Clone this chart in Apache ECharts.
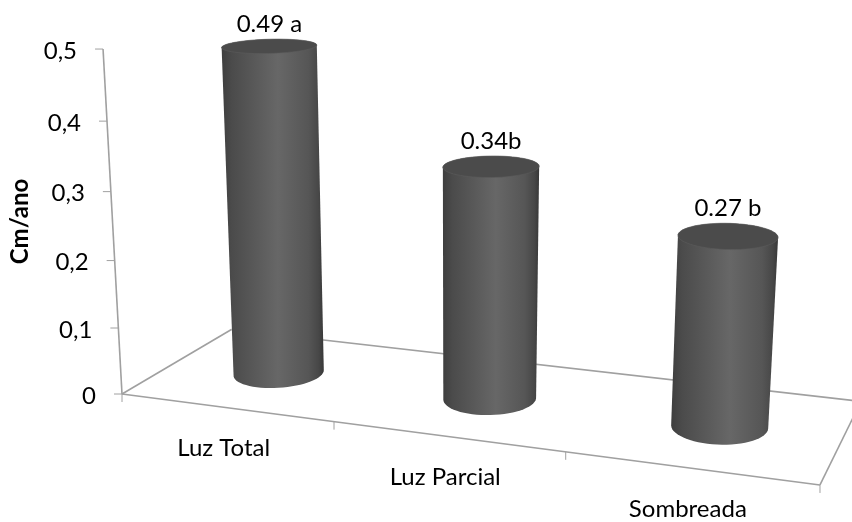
<!DOCTYPE html>
<html><head><meta charset="utf-8">
<style>html,body{margin:0;padding:0;background:#fff}#c{width:852px;height:522px}</style>
<script src="https://cdn.jsdelivr.net/npm/echarts@6/dist/echarts.min.js"></script>
</head><body><div id="c"></div>
<script>
const categories = ['Luz Total', 'Luz Parcial', 'Sombreada'];
const values = [0.49, 0.34, 0.27];
const valueLabels = ['0.49 a', '0.34b', '0.27 b'];
const yTicks = [0, 0.1, 0.2, 0.3, 0.4, 0.5];
const yTickLabels = ['0', '0,1', '0,2', '0,3', '0,4', '0,5'];
const axisTitle = 'Cm/ano';

const FONT = 'Lato, Carlito, "Open Sans", sans-serif';
const LINE = '#a0a0a0';
// Perspective camera: u along categories (0..n), w depth (0..1), t height (0..1)
const CAM = {
  a: 197.8, b: 136.5, c: -24.5, d: 122,
  e: 9.7, f: -25.95, g: -347.6, h: 394,
  i: -0.04252, j: 0.117, k: -0.0538
};
function project(u, w, t) {
  const z = CAM.i * u + CAM.j * w + CAM.k * t + 1;
  return [(CAM.a * u + CAM.b * w + CAM.c * t + CAM.d) / z,
          (CAM.e * u + CAM.f * w + CAM.g * t + CAM.h) / z];
}
// convert library scale output (pixels in the grid) to model coordinates
function modelU(params, px) { const s = params.coordSys; return (px - s.x) / s.width * categories.length; }
function modelT(params, py) { const s = params.coordSys; return (s.y + s.height - py) / s.height; }

function hull(pts) {
  const p = pts.slice().sort((m, n) => m[0] - n[0] || m[1] - n[1]);
  const cross = (o, a, b) => (a[0] - o[0]) * (b[1] - o[1]) - (a[1] - o[1]) * (b[0] - o[0]);
  const lo = [], up = [];
  for (const q of p) { while (lo.length > 1 && cross(lo[lo.length - 2], lo[lo.length - 1], q) <= 0) lo.pop(); lo.push(q); }
  for (const q of p.slice().reverse()) { while (up.length > 1 && cross(up[up.length - 2], up[up.length - 1], q) <= 0) up.pop(); up.push(q); }
  return lo.slice(0, -1).concat(up.slice(0, -1));
}
function seg(p, q, w) {
  return { type: 'line', shape: { x1: p[0], y1: p[1], x2: q[0], y2: q[1] }, style: { stroke: LINE, lineWidth: w || 1.6 }, silent: true };
}
function txt(text, x, y, align, vAlign, size) {
  return { type: 'text', x: x, y: y, silent: true, style: { text: text, align: align, verticalAlign: vAlign, textAlign: align, textVerticalAlign: vAlign, fill: '#000', font: (size || 24) + 'px ' + FONT } };
}

function renderFrame(params, api) {
  const n = categories.length, out = [];
  // floor outline
  const A = project(0, 0, 0), B = project(n, 0, 0), C = project(n, 1, 0), D = project(0, 1, 0);
  out.push(seg(A, B), seg(B, C), seg(C, D), seg(D, A));
  // category ticks and labels
  for (let k = 0; k <= n; k++) { const p = project(k, 0, 0); out.push(seg(p, [p[0], p[1] + 8], 1)); }
  categories.forEach((name, i) => {
    const u = modelU(params, api.coord([i, 0])[0]);
    const p = project(u, 0, 0);
    out.push(txt(name, p[0] - 2, p[1] + 41, 'center', 'middle'));
  });
  // slanted value axis
  const tOf = v => modelT(params, api.coord([0, v])[1]);
  out.push(seg(project(0, 0, tOf(yTicks[0])), project(0, 0, tOf(yTicks[yTicks.length - 1]))));
  yTicks.forEach((v, i) => {
    const p = project(0, 0, tOf(v));
    out.push(seg([p[0] - 8, p[1]], p, 1));
    out.push(txt(yTickLabels[i], p[0] - 26, p[1] + 2, 'right', 'middle'));
  });
  return { type: 'group', children: out };
}

const CIRCLE_STEPS = 64, RU = 0.196, RW = 0.215, WC = 0.495, DU = 0.003;
function ring(u, t) {
  const pts = [];
  for (let s = 0; s < CIRCLE_STEPS; s++) {
    const a = s / CIRCLE_STEPS * Math.PI * 2;
    pts.push(project(u + DU + RU * Math.cos(a), WC + RW * Math.sin(a), t));
  }
  return pts;
}
function renderCylinder(params, api) {
  const i = api.value(0), v = api.value(1);
  const top = api.coord([i, v]), base = api.coord([i, 0]);
  const u = modelU(params, top[0]);
  const t = modelT(params, top[1]), t0 = modelT(params, base[1]);
  const bottomRing = ring(u, t0), topRing = ring(u, t);
  const minY = Math.min.apply(null, topRing.map(p => p[1]));
  const mid = project(u + DU, WC, t);
  return { type: 'group', children: [
    { type: 'polygon', shape: { points: hull(bottomRing.concat(topRing)) }, silent: true,
      style: { fill: new echarts.graphic.LinearGradient(0, 0, 1, 0, [
        { offset: 0, color: '#3e3e3e' }, { offset: 0.1, color: '#4b4b4b' },
        { offset: 0.55, color: '#676767' }, { offset: 0.85, color: '#565656' },
        { offset: 0.95, color: '#474747' }, { offset: 1, color: '#383838' }]) } },
    { type: 'polygon', shape: { points: topRing }, silent: true, style: { fill: '#4b4b4b', stroke: '#5c5c5c', lineWidth: 0.6 } },
    txt(valueLabels[i], mid[0], minY - 15, 'center', 'middle')
  ] };
}

const chart = echarts.init(document.getElementById('c'), null, { renderer: 'canvas' });
chart.setOption({
  animation: false,
  backgroundColor: '#fff',
  grid: { left: 105, right: 30, top: 49, height: 345, containLabel: false },
  xAxis: { type: 'category', data: categories, show: false },
  yAxis: {
    type: 'value', min: 0, max: 0.5, interval: 0.1,
    name: axisTitle, nameLocation: 'middle', nameGap: 75, nameRotate: 90,
    nameTextStyle: { fontFamily: FONT, fontWeight: 'bold', fontSize: 24, color: '#000' },
    axisLine: { show: false }, axisTick: { show: false }, axisLabel: { show: false }, splitLine: { show: false }
  },
  series: [
    { type: 'custom', name: 'frame', z: 1, clip: false, renderItem: renderFrame, data: [[0, 0]], encode: { x: 0, y: 1 }, silent: true },
    { type: 'custom', name: 'Cm/ano', z: 2, clip: false, renderItem: renderCylinder, data: values.map((v, i) => [i, v]), encode: { x: 0, y: 1 }, silent: true }
  ]
});
</script></body></html>
